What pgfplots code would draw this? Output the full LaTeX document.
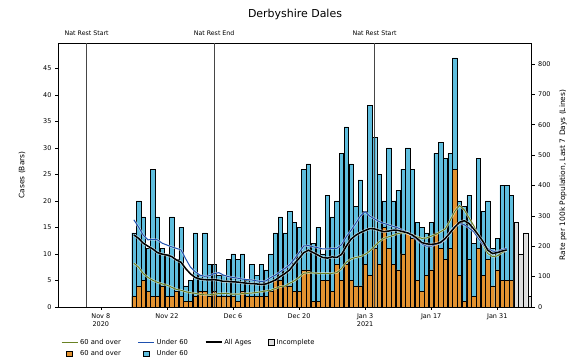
\documentclass[border=0pt]{standalone}
\usepackage{fontspec}
\setmainfont{DejaVu Sans}
\usepackage{pgfplots}
\pgfplotsset{compat=1.18}
\usepackage{pgfplotstable}
\definecolor{barorange}{RGB}{226,146,48}
\definecolor{barcyan}{RGB}{95,190,222}
\definecolor{lineolive}{RGB}{105,130,35}
\definecolor{lineblue}{RGB}{30,80,175}
\definecolor{incgray}{RGB}{222,222,222}
\definecolor{vline}{RGB}{70,70,70}
\pgfplotsset{
 boxleg/.style={legend image code/.code={\draw[##1] (0.17cm,-0.09cm) rectangle (0.37cm,0.09cm);}},
 lineleg/.style={legend image code/.code={\draw[##1] (0cm,0cm) -- (0.56cm,0cm);}},
}
\pgfplotstableread{
day total over
14 14 2
15 20 4
16 17 5
17 11 3
18 26 2
19 17 2
20 11 4
21 10 2
22 17 2
23 9 3
24 15 2
25 4 1
26 5 1
27 14 2
28 6 3
29 14 3
30 8 2
31 8 3
32 6 2
33 6 2
34 9 2
35 10 2
36 9 1
37 10 3
38 5 2
39 8 2
40 6 2
41 8 2
42 7 2
43 10 3
44 14 5
45 17 5
46 14 4
47 18 4
48 16 3
49 15 3
50 26 7
51 27 7
52 12 1
53 15 1
54 10 5
55 21 5
56 17 3
57 20 8
58 29 5
59 34 8
60 27 5
61 19 4
62 24 4
63 18 8
64 38 6
65 32 11
66 25 8
67 20 15
68 30 11
69 20 8
70 22 7
71 26 10
72 30 14
73 26 13
74 16 5
75 15 3
76 14 6
77 16 7
78 29 14
79 31 11
80 28 9
81 29 11
82 47 26
83 20 6
84 19 1
85 21 9
86 12 2
87 28 11
88 18 6
89 20 9
90 11 4
91 13 7
92 23 5
93 23 5
94 21 5
}\bars
\pgfplotstableread{
day total
95 16
96 10
97 14
98 2
}\incomplete
\pgfplotstableread{
day all under over
14 237 287 144
15 226 263 131
16 210 236 110
17 200 221 97
18 191 223 88
19 179 221 81
20 174 210 76
21 171 204 72
22 166 198 65
23 155 193 58
24 147 188 55
25 126 158 50
26 109 131 47
27 97 116 45
28 92 105 42
29 90 101 40
30 89 103 40
31 90 110 42
32 88 113 44
33 84 105 45
34 84 100 44
35 83 97 42
36 82 95 42
37 80 92 44
38 78 90 45
39 77 89 46
40 76 86 48
41 74 84 50
42 76 86 53
43 82 97 55
44 89 105 61
45 100 116 67
46 110 127 69
47 122 139 78
48 142 158 86
49 160 179 97
50 179 201 111
51 187 202 113
52 179 198 112
53 171 195 111
54 163 191 111
55 161 191 111
56 165 193 111
57 163 193 113
58 173 205 126
59 200 231 147
60 223 252 158
61 236 275 163
62 245 299 166
63 252 314 173
64 258 299 184
65 257 290 200
66 252 281 215
67 248 275 226
68 250 270 231
69 253 265 236
70 252 260 242
71 248 252 244
72 244 244 242
73 237 233 237
74 226 221 231
75 212 208 226
76 208 200 227
77 206 200 233
78 208 206 239
79 213 210 248
80 226 223 257
81 244 248 284
82 263 265 315
83 279 275 334
84 284 271 320
85 275 260 294
86 257 248 268
87 237 226 236
88 215 205 205
89 187 193 176
90 176 184 166
91 179 182 168
92 184 189 179
93 188 193 187
}\rates
\begin{document}
\begin{tikzpicture}
\useasboundingbox (0,0) rectangle (570bp,364bp);
\node[font=\fontsize{11}{13}\selectfont] at (295bp,350bp) {Derbyshire Dales};
\begin{scope}[font=\fontsize{6.3}{7.5}\selectfont]
\node[anchor=base] at (86.7bp,328.5bp) {Nat Rest Start};
\node[anchor=base] at (214.1bp,328.5bp) {Nat Rest End};
\node[anchor=base] at (374.6bp,328.5bp) {Nat Rest Start};
\end{scope}
\begin{axis}[
 at={(58bp,57bp)}, anchor=south west, scale only axis,
 width=473.7bp, height=264bp,
 xmin=-2.08, xmax=98.3, ymin=0, ymax=49.8,
 ybar, bar width=0.92, bar shift=0pt,
 xtick={7,21,35,49,63,77,91},
 xticklabels={{Nov 8\\2020},{Nov 22},{Dec 6},{Dec 20},{Jan 3\\2021},{Jan 17},{Jan 31}},
 xticklabel style={align=center, font=\fontsize{6.5}{8}\selectfont},
 ytick={0,5,...,45},
 yticklabel style={font=\fontsize{6.5}{8}\selectfont},
 ytick pos=left, xtick pos=bottom,
 tick align=outside, major tick length=3bp,
 tick style={black, line width=0.5pt},
 axis line style={line width=0.6pt},
 /pgf/number format/assume math mode=true,
 ylabel={Cases (Bars)},
 every axis y label/.style={at={(rel axis cs:-0.076,0.5)}, rotate=90, anchor=center, font=\fontsize{7.5}{9}\selectfont},
]
\addplot[fill=barcyan, draw=black, line width=0.4pt] table[x=day, y=total] {\bars};
\addplot[fill=barorange, draw=black, line width=0.4pt] table[x=day, y=over] {\bars};
\addplot[fill=incgray, draw=black, line width=0.4pt] table[x=day, y=total] {\incomplete};
\draw[vline, line width=0.8pt] (axis cs:4,0) -- (axis cs:4,49.8);
\draw[vline, line width=0.8pt] (axis cs:31,0) -- (axis cs:31,49.8);
\draw[vline, line width=0.8pt] (axis cs:65,0) -- (axis cs:65,49.8);
\end{axis}
\begin{axis}[
 at={(58bp,57bp)}, anchor=south west, scale only axis,
 width=473.7bp, height=264bp,
 xmin=-2.08, xmax=98.3, ymin=0, ymax=869,
 axis y line*=right, axis x line=none,
 ytick={0,100,...,800},
 yticklabel style={font=\fontsize{6.5}{8}\selectfont},
 tick align=outside, major tick length=3bp,
 tick style={black, line width=0.5pt},
 axis line style={line width=0.6pt},
 /pgf/number format/assume math mode=true,
 ylabel={Rate per 100k Population, Last 7 Days (Lines)},
 every axis y label/.style={at={(rel axis cs:1.066,0.5)}, rotate=90, anchor=center, font=\fontsize{7.5}{9}\selectfont},
 legend columns=4,
 legend style={at={(rel axis cs:0,-0.105)}, anchor=north west, draw=none, fill=none,
   font=\fontsize{6.8}{8}\selectfont, row sep=1bp,
   /tikz/every even column/.append style={column sep=15bp}},
]
\addplot[forget plot, white, opacity=0.6, line width=2.2pt] table[x=day, y=over] {\rates};
\addplot[forget plot, lineolive, line width=1pt] table[x=day, y=over] {\rates};
\addplot[forget plot, white, opacity=0.6, line width=2.2pt] table[x=day, y=under] {\rates};
\addplot[forget plot, lineblue, line width=1pt] table[x=day, y=under] {\rates};
\addplot[forget plot, white, opacity=0.6, line width=2.8pt] table[x=day, y=all] {\rates};
\addplot[forget plot, black, line width=1.5pt] table[x=day, y=all] {\rates};
\addlegendimage{lineleg, lineolive, line width=1pt}
\addlegendentry{60 and over}
\addlegendimage{lineleg, lineblue, line width=1pt}
\addlegendentry{Under 60}
\addlegendimage{lineleg, black, line width=1.5pt}
\addlegendentry{All Ages}
\addlegendimage{boxleg, fill=incgray, draw=black}
\addlegendentry{Incomplete}
\addlegendimage{boxleg, fill=barorange, draw=black}
\addlegendentry{60 and over}
\addlegendimage{boxleg, fill=barcyan, draw=black}
\addlegendentry{Under 60}
\end{axis}
\end{tikzpicture}
\end{document}
